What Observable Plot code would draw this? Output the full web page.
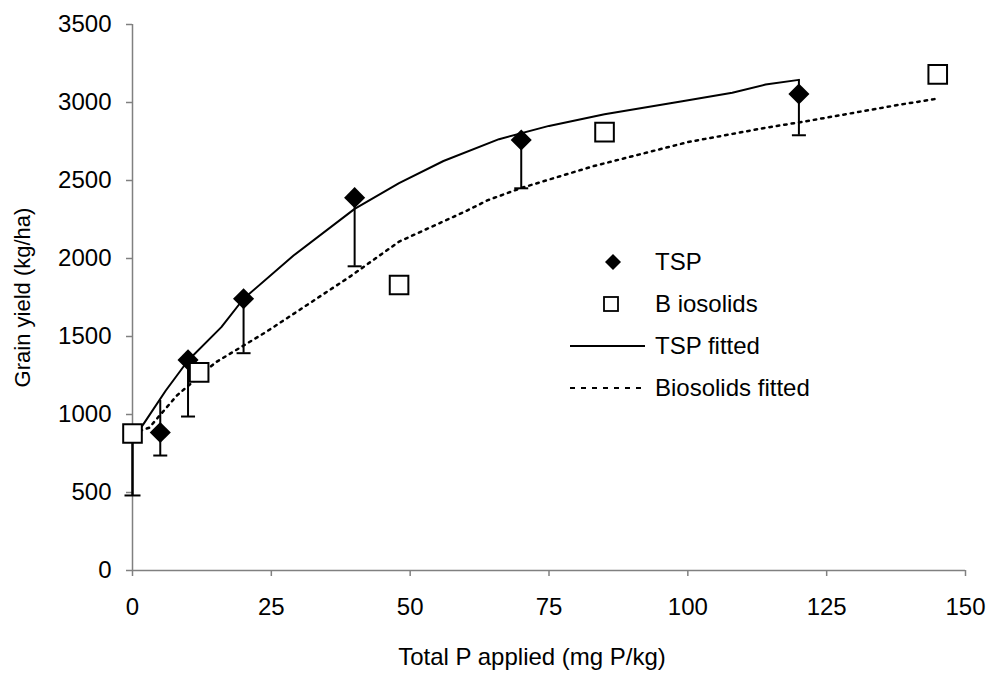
<!DOCTYPE html>
<html>
<head>
<meta charset="utf-8">
<script src="https://cdn.jsdelivr.net/npm/d3@7"></script>
<script src="https://cdn.jsdelivr.net/npm/@observablehq/plot@0.6"></script>
<style>
  html, body { margin: 0; padding: 0; background: #fff; }
  #wrap { position: relative; width: 996px; height: 673px; font-family: "Liberation Sans", Arial, sans-serif; }
  #legend { position: absolute; left: 560px; top: 241px; font-size: 24px; color: #000; }
  #legend .item { display: flex; align-items: center; height: 42px; }
  #legend .key { width: 95px; height: 32px; }
  #legend svg { display: block; }
</style>
</head>
<body>
<div id="wrap">
  <div id="chart"></div>
  <div id="legend"></div>
</div>
<script>
// Grain yield response to total P applied
const tspX = [5, 10, 20, 40, 70, 120];
const tspYield = [885, 1350, 1742, 2390, 2760, 3055];
const tspErrLow = [737, 987, 1393, 1950, 2450, 2790];
const tspErrHigh = [1090, 1350, 1742, 2390, 2760, 3145];

const bioX = [0, 12, 48, 85, 145];
const bioYield = [878, 1270, 1830, 2810, 3180];
const bioErrX = [0];
const bioErrLow = [481];
const bioErrHigh = [878];

// Fitted response curves
const tspFitX = [0, 2, 6, 10, 16, 20, 29, 40, 48, 56, 66, 75, 85, 99, 108, 114, 120];
const tspFitY = [840, 940, 1154, 1346, 1560, 1742, 2019, 2318, 2483, 2625, 2765, 2850, 2925, 3008, 3062, 3115, 3145];

const bioFitX = [0, 3, 8, 15, 20, 24, 29, 39, 48, 60, 64, 70, 83, 100, 114, 121, 138, 145];
const bioFitY = [880, 915, 1122, 1335, 1442, 1528, 1645, 1880, 2108, 2303, 2374, 2452, 2592, 2746, 2838, 2878, 2985, 3025];

const xTicks = [0, 25, 50, 75, 100, 125, 150];
const yTicks = [0, 500, 1000, 1500, 2000, 2500, 3000, 3500];

const xTitle = "Total P applied (mg P/kg)";
const yTitle = "Grain yield (kg/ha)";

const tsp = tspX.map((x, i) => ({x, y: tspYield[i], lo: tspErrLow[i], hi: tspErrHigh[i]}));
const bio = bioX.map((x, i) => ({x, y: bioYield[i]}));
const bioErr = bioErrX.map((x, i) => ({x, lo: bioErrLow[i], hi: bioErrHigh[i]}));
const tspFit = tspFitX.map((x, i) => ({x, y: tspFitY[i]}));
const bioFit = bioFitX.map((x, i) => ({x, y: bioFitY[i]}));

// horizontal cap for error bars; half-width equals r
const cap = {
  draw(context, size) {
    const w = Math.sqrt(size / Math.PI);
    context.moveTo(-w, 0);
    context.lineTo(w, 0);
  }
};

const axisGray = "#808080";
const font = "'Liberation Sans', Arial, sans-serif";

const chart = Plot.plot({
  width: 996,
  height: 673,
  marginLeft: 132,
  marginRight: 31,
  marginTop: 24,
  marginBottom: 103,
  style: {fontFamily: font, fontSize: "24px", color: "#000", background: "#fff"},
  x: {domain: [0, 150]},
  y: {domain: [0, 3500]},
  marks: [
    Plot.ruleX([0], {stroke: axisGray, strokeWidth: 1.5}),
    Plot.ruleY([0], {stroke: axisGray, strokeWidth: 1.5}),
    Plot.axisX({ticks: xTicks, tickFormat: d => String(d), tickSize: 6, tickPadding: 21,
      fontSize: 24, stroke: axisGray, strokeWidth: 1.5, label: null}),
    Plot.axisY({ticks: yTicks, tickFormat: d => String(d), tickSize: 6, tickPadding: 15,
      fontSize: 24, stroke: axisGray, strokeWidth: 1.5, label: null}),
    Plot.text([xTitle], {text: d => d, frameAnchor: "bottom", textAnchor: "middle", dx: -17, dy: 94, fontSize: 24, fill: "#000"}),
    Plot.text([yTitle], {text: d => d, frameAnchor: "left", textAnchor: "middle", rotate: -90, dx: -110, fontSize: 22, fill: "#000"}),
    Plot.line(tspFit, {x: "x", y: "y", stroke: "#000", strokeWidth: 2, curve: "linear"}),
    Plot.line(bioFit, {x: "x", y: "y", stroke: "#000", strokeWidth: 2.5, strokeDasharray: "2.5,5", curve: "linear"}),
    Plot.ruleX(tsp, {x: "x", y1: "lo", y2: "hi", stroke: "#000", strokeWidth: 2}),
    Plot.dot(tsp, {x: "x", y: "lo", symbol: cap, r: 7, stroke: "#000", strokeWidth: 2, fill: "none"}),
    Plot.ruleX(bioErr, {x: "x", y1: "lo", y2: "hi", stroke: "#000", strokeWidth: 2.5}),
    Plot.dot(bioErr, {x: "x", y: "lo", symbol: cap, r: 8, stroke: "#000", strokeWidth: 2, fill: "none"}),
    Plot.dot(tsp, {x: "x", y: "y", symbol: "diamond2", r: 9.5, fill: "#000", stroke: "none"}),
    Plot.dot(bio, {x: "x", y: "y", symbol: "square", r: 10.5, fill: "#fff", stroke: "#000", strokeWidth: 2})
  ]
});
document.getElementById("chart").appendChild(chart);

// Legend
const legendItems = [
  {label: "TSP", kind: "diamond"},
  {label: "B iosolids", kind: "square"},
  {label: "TSP fitted", kind: "solid"},
  {label: "Biosolids fitted", kind: "dotted"}
];
const legend = d3.select("#legend");
for (const item of legendItems) {
  const row = legend.append("div").attr("class", "item");
  const svg = row.append("svg").attr("class", "key").attr("width", 95).attr("height", 32);
  if (item.kind === "diamond") {
    svg.append("path").attr("d", "M53,8 L61,16 L53,24 L45,16 Z").attr("fill", "#000");
  } else if (item.kind === "square") {
    svg.append("rect").attr("x", 44).attr("y", 9).attr("width", 14).attr("height", 14)
      .attr("fill", "#fff").attr("stroke", "#000").attr("stroke-width", 1.8);
  } else if (item.kind === "solid") {
    svg.append("line").attr("x1", 10).attr("x2", 85).attr("y1", 16).attr("y2", 16)
      .attr("stroke", "#000").attr("stroke-width", 2);
  } else {
    svg.append("line").attr("x1", 10).attr("x2", 85).attr("y1", 16).attr("y2", 16)
      .attr("stroke", "#000").attr("stroke-width", 2).attr("stroke-dasharray", "5,6");
  }
  row.append("span").text(item.label);
}
</script>
</body>
</html>
